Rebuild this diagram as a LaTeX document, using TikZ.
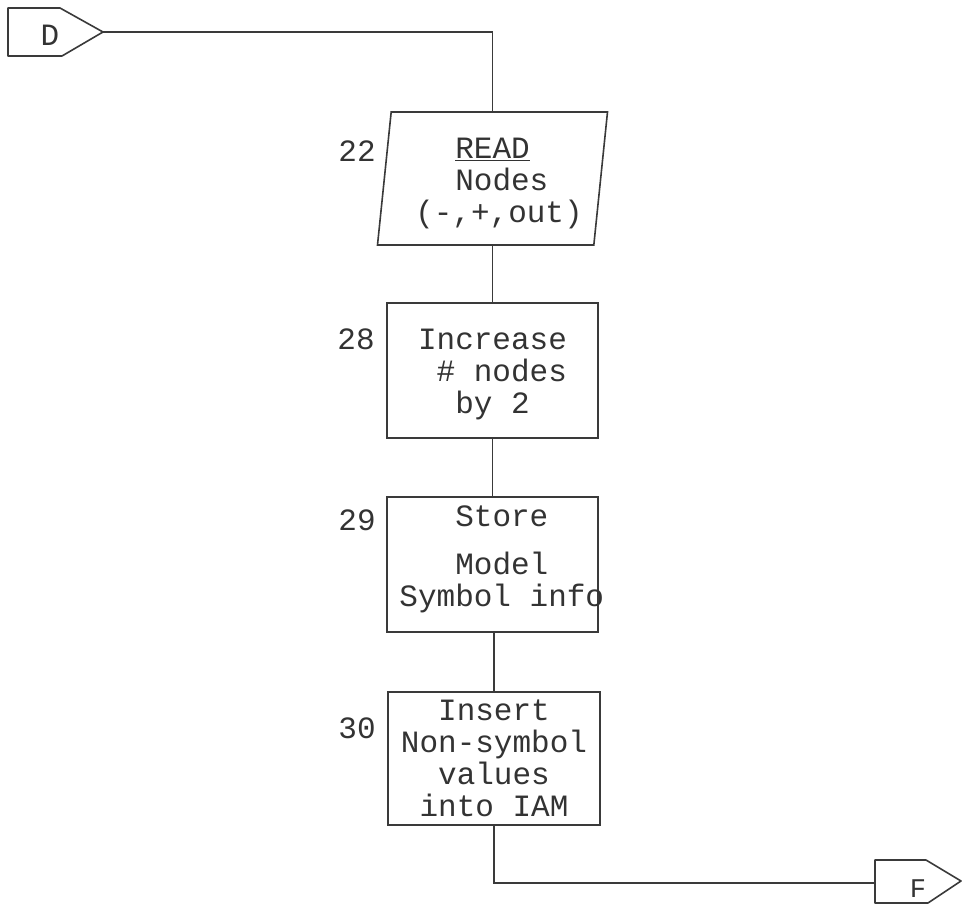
\documentclass[tikz,border=0pt]{standalone}
\usepackage{fontspec}
\setmonofont{Liberation Mono}
\usetikzlibrary{shapes.geometric}
\definecolor{ink}{HTML}{3A3A3A}
\definecolor{txt}{HTML}{333333}
\newcommand{\txtlines}[2]{\raisebox{-#1}[\height][\depth]{%
  \setlength{\tabcolsep}{0pt}\renewcommand{\arraystretch}{1}%
  \begin{tabular}{c}#2\end{tabular}}}
\begin{document}
\begin{tikzpicture}[x=1pt,y=-1pt,
  wire/.style={draw=ink, line width=1.6pt},
  tw/.style={font=\ttfamily\fontsize{31}{32}\selectfont, text=txt},
  box/.style={tw, draw=ink, line width=1.6pt, minimum width=211pt, minimum height=135pt,
              inner sep=0pt},
  para/.style={tw, draw=ink, line width=1.6pt, trapezium, trapezium left angle=81.9,
               trapezium right angle=98.1, trapezium stretches body,
               minimum width=230pt, minimum height=133pt, inner sep=0pt},
  num/.style={tw, inner sep=0pt},
  conn/.style={draw=ink, line width=1.6pt, line join=round}]
\useasboundingbox (0,0) rectangle (963,909);
\fill[white] (0,0) rectangle (963,909);

% off-page connector D
\draw[conn] (8,8) -- (60,8) -- (103,32) -- (62,56) -- (8,56) -- cycle;
\coordinate (dtip) at (103,32);
\node[num] (dlab) at (50,35) {D};

% 22 input
\node[para] (par) at (492.5,178.5) {\txtlines{5.5pt}{\underline{READ}\\\hphantom{x}Nodes\\\rule{13pt}{0pt}(-,+,out)}};
\node[num] (n22) at (357,151) {22};

% 28
\node[box] (b28) at (492.5,370.5) {\txtlines{5pt}{Increase\\\hphantom{x}\# nodes\\by 2}};
\node[num] (n28) at (356,339) {28};

% 29
\node[box] (b29) at (492.5,564.5) {\txtlines{-4pt}{\hphantom{x}Store\\[16pt]\hphantom{x}Model\\\makebox[180pt]{\hphantom{x}Symbol info}}};
\node[num] (n29) at (357,520) {29};

% 30
\node[box, minimum width=212pt, minimum height=133pt] (b30) at (494,758.5) {\txtlines{3.5pt}{Insert\\Non-symbol\\values\\into IAM}};
\node[num] (n30) at (357,728) {30};

% off-page connector F
\draw[conn] (875,860) -- (926,860) -- (961,881) -- (928,903) -- (875,903) -- cycle;
\coordinate (fin) at (875,883);
\node[num, font=\ttfamily\fontsize{27}{28}\selectfont] (flab) at (918,889) {F};

% connectors
\draw[wire] (dtip) -| (b28.north |- par.north);
\draw[wire] (b28.north |- par.south) -- (b28.north);
\draw[wire] (b28.south) -- (b29.north);
\draw[wire] (b30.north |- b29.south) -- (b30.north);
\draw[wire] (b30.south) |- (fin);
\end{tikzpicture}
\end{document}
